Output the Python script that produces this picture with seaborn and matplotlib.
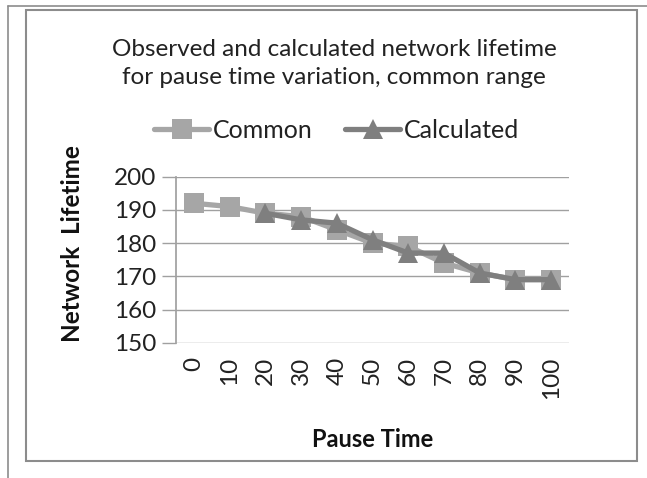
import numpy as np
import pandas as pd
import matplotlib
matplotlib.use("Agg")
import matplotlib.pyplot as plt
from matplotlib.patches import Rectangle
from matplotlib.lines import Line2D
import seaborn as sns

pause_time = [0, 10, 20, 30, 40, 50, 60, 70, 80, 90, 100]
common = [192, 191, 189, 188, 184, 180, 179, 174, 171, 169, 169]
calculated = [np.nan, np.nan, 189, 187, 186, 181, 177, 177, 171, 169, 169]
y_ticks = [150, 160, 170, 180, 190, 200]

title = "Observed and calculated network lifetime\nfor pause time variation, common range"

sns.set_theme(style="white")
plt.rcParams['font.family'] = ['Lato', 'DejaVu Sans']

fig = plt.figure(figsize=(6.47, 4.78), dpi=100)
ax = fig.add_axes([176/647, 1-342.7/478, (569-176)/647, (342.7-176.7)/478])

df = pd.DataFrame({"Pause Time": pause_time, "Common": common, "Calculated": calculated})

c_common = "#a6a6a6"
c_calc = "#7f7f7f"
sns.lineplot(data=df, x="Pause Time", y="Common", ax=ax, color=c_common, lw=3.8,
             marker="s", markersize=14, markeredgewidth=0, label="Common", zorder=3)
sns.lineplot(data=df, x="Pause Time", y="Calculated", ax=ax, color=c_calc, lw=3.8,
             marker="^", markersize=14, markeredgewidth=0, label="Calculated", zorder=4)

ax.set_xlim(-5, 105)
ax.set_ylim(150, 200)
ax.set_yticks(y_ticks)
ax.set_xticks(pause_time)
ax.set_xticklabels([str(p) for p in pause_time], rotation=90, va="top")
ax.yaxis.grid(True, color="#a0a0a0", lw=1)
ax.xaxis.grid(False)
for s in ["top", "right", "bottom"]:
    ax.spines[s].set_visible(False)
ax.spines["left"].set_color("#a0a0a0")
ax.tick_params(axis="y", length=10, width=1, color="#a0a0a0", labelsize=17.5, pad=4,
               direction="out", left=True)
ax.tick_params(axis="x", length=0, labelsize=17.5, pad=10)
for t in ax.get_yticklabels() + ax.get_xticklabels():
    t.set_color("#222222")

ax.set_xlabel("Pause Time", fontsize=17, fontweight="bold", color="#111111")
ax.set_ylabel("Network  Lifetime", fontsize=17.5, fontweight="bold", color="#111111")
ax.xaxis.set_label_coords(0.5, (343 - 440) / 166, transform=ax.transAxes)
ax.xaxis.label.set_va("center")
ax.yaxis.set_label_coords((72 - 176) / 393, (343 - 244) / 166, transform=ax.transAxes)
ax.yaxis.label.set_va("center")

ax.get_legend().remove()
handles = [Line2D([0], [0], color=c_common, lw=3.8, marker="s", markersize=14, markeredgewidth=0),
           Line2D([0], [0], color=c_calc, lw=3.8, marker="^", markersize=14, markeredgewidth=0)]
fig.legend(handles, ["Common", "Calculated"], loc="center", bbox_to_anchor=(337/647, 1-130/478),
           ncol=2, frameon=False, fontsize=18, handlelength=2.2, handletextpad=0.15,
           columnspacing=1.3, labelcolor="#222222")

fig.text(334/647, 1-63.5/478, title, ha="center", va="center", fontsize=17.5,
         color="#222222", linespacing=1.45)

# chart frame borders
fig.patches.append(Rectangle((26/647, 1-461/478), (637-26)/647, (461-10)/478,
                             transform=fig.transFigure, fill=False, ec="#8c8c8c", lw=1.5))
fig.lines.append(Line2D([8/647, 1], [1-6/478, 1-6/478], transform=fig.transFigure,
                        color="#8c8c8c", lw=1.2))
fig.lines.append(Line2D([8/647, 8/647], [0, 1-6/478], transform=fig.transFigure,
                        color="#8c8c8c", lw=1.2))

fig.savefig("out.png", dpi=100, facecolor="white")
